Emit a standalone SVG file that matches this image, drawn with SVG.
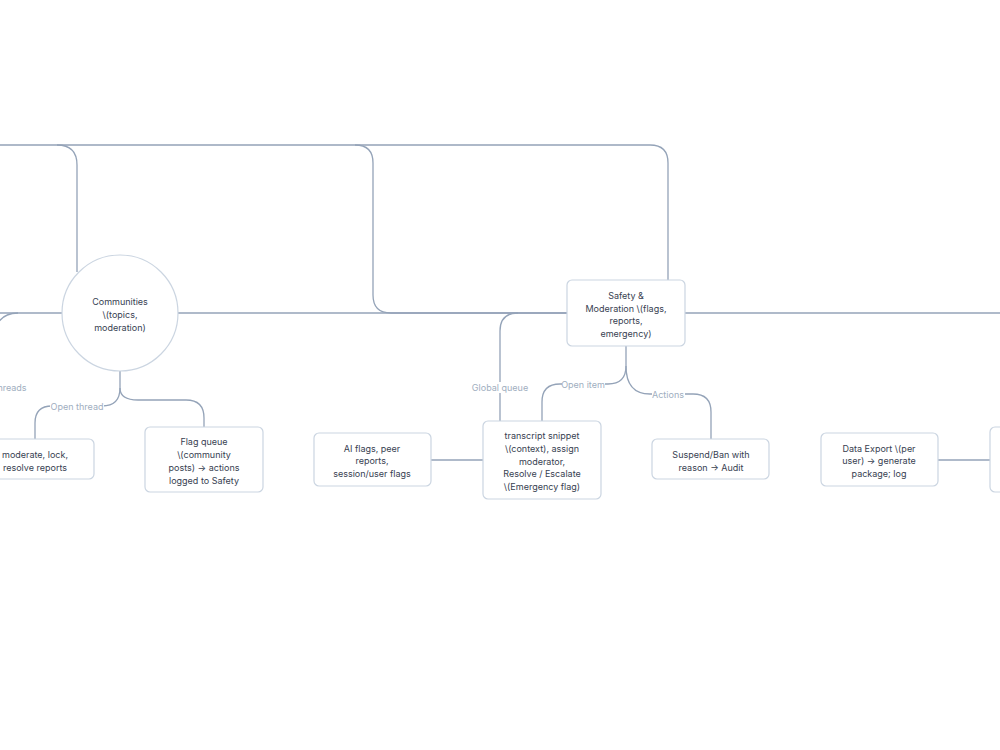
<svg xmlns="http://www.w3.org/2000/svg" width="1000" height="750" viewBox="0 0 1000 750">
<style>
.e{fill:none;stroke:#94a3b8;stroke-width:1.3}
.n{fill:#ffffff;stroke:#cbd5e1;stroke-width:1.2}
.t{font-family:Inter,"Liberation Sans",sans-serif;font-size:9px;fill:#374151;text-anchor:middle}
.l{font-family:Inter,"Liberation Sans",sans-serif;font-size:9px;fill:#a0aec0;text-anchor:middle}
.lb{fill:#ffffff}
</style>
<rect width="1000" height="750" fill="#ffffff"/>
<g id="connectors">
<path class="e" d="M0 145 H650 Q668 145 668 163 V280"/>
<path class="e" d="M57 145 Q77 145 77 165 V272"/>
<path class="e" d="M355 145 Q373 145 373 163 V295 Q373 313 391 313 H567"/>
<path class="e" d="M0 313 H62"/>
<path class="e" d="M178 313 H567"/>
<path class="e" d="M685 313 H1000"/>
<path class="e" d="M18 313 Q0 313 -5 330"/>
<path class="e" d="M120 371 V388 Q120 406 102 406 H52 Q35 406 35 423 V439"/>
<path class="e" d="M120 388 Q120 400 138 400 H186 Q204 400 204 418 V427"/>
<path class="e" d="M518 313 Q500 313 500 331 V421"/>
<path class="e" d="M626 346 V366 Q626 384 608 384 H560 Q542 384 542 402 V421"/>
<path class="e" d="M626 366 Q626 394 650 394 H693 Q711 394 711 412 V439"/>
<path class="e" d="M431 460 H483"/>
<path class="e" d="M938 460 H990"/>
<rect class="lb" x="50" y="401" width="54" height="11"/>
<text class="l" x="77" y="410">Open thread</text>
<text class="l" x="12" y="391">hreads</text>
<rect class="lb" x="472" y="382" width="56" height="11"/>
<text class="l" x="500" y="391">Global queue</text>
<rect class="lb" x="562" y="379" width="43" height="11"/>
<text class="l" x="583" y="388">Open item</text>
<rect class="lb" x="652" y="389" width="33" height="11"/>
<text class="l" x="668" y="398">Actions</text>
</g>
<g id="communities">
<circle class="n" cx="120" cy="313" r="58"/>
<text class="t" x="120" y="305">Communities</text>
<text class="t" x="120" y="318">\(topics,</text>
<text class="t" x="120" y="331">moderation)</text>
</g>
<g id="safety">
<rect class="n" x="567" y="280" width="118" height="66" rx="5"/>
<text class="t" x="626" y="299">Safety &amp;</text>
<text class="t" x="626" y="312">Moderation \(flags,</text>
<text class="t" x="626" y="324">reports,</text>
<text class="t" x="626" y="337">emergency)</text>
</g>
<g id="moderate">
<rect class="n" x="-24" y="439" width="118" height="40" rx="5"/>
<text class="t" x="35" y="458">moderate, lock,</text>
<text class="t" x="35" y="471">resolve reports</text>
</g>
<g id="flagqueue">
<rect class="n" x="145" y="427" width="118" height="65" rx="5"/>
<text class="t" x="204" y="445">Flag queue</text>
<text class="t" x="204" y="458">\(community</text>
<text class="t" x="204" y="471">posts) → actions</text>
<text class="t" x="204" y="484">logged to Safety</text>
</g>
<g id="aiflags">
<rect class="n" x="314" y="433" width="117" height="53" rx="5"/>
<text class="t" x="372" y="452">AI flags, peer</text>
<text class="t" x="372" y="464">reports,</text>
<text class="t" x="372" y="477">session/user flags</text>
</g>
<g id="transcript">
<rect class="n" x="483" y="421" width="118" height="78" rx="5"/>
<text class="t" x="542" y="439">transcript snippet</text>
<text class="t" x="542" y="452">\(context), assign</text>
<text class="t" x="542" y="465">moderator,</text>
<text class="t" x="542" y="477">Resolve / Escalate</text>
<text class="t" x="542" y="490">\(Emergency flag)</text>
</g>
<g id="suspend">
<rect class="n" x="652" y="439" width="117" height="40" rx="5"/>
<text class="t" x="711" y="458">Suspend/Ban with</text>
<text class="t" x="711" y="471">reason → Audit</text>
</g>
<g id="dataexport">
<rect class="n" x="821" y="433" width="117" height="53" rx="5"/>
<text class="t" x="879" y="452">Data Export \(per</text>
<text class="t" x="879" y="464">user) → generate</text>
<text class="t" x="879" y="477">package; log</text>
</g>
<g id="rightnode">
<rect class="n" x="990" y="427" width="118" height="65" rx="5"/>
</g>
</svg>
